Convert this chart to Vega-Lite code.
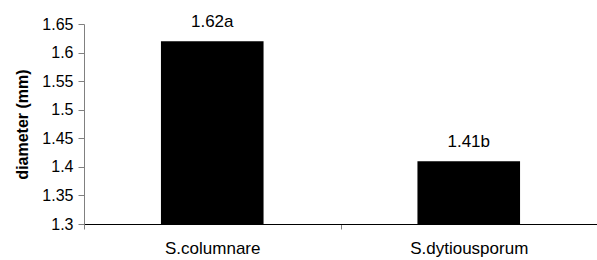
{
  "$schema": "https://vega.github.io/schema/vega-lite/v6.json",
  "width": 513,
  "height": 200,
  "autosize": {"type": "none"},
  "padding": {"left": 84, "top": 24, "right": 0, "bottom": 36},
  "background": "white",
  "config": {"view": {"stroke": null}, "font": "Liberation Sans"},
  "data": {"values": [
    {"species": "S.columnare", "diameter": 1.62, "label": "1.62a"},
    {"species": "S.dytiousporum", "diameter": 1.41, "label": "1.41b"}
  ]},
  "encoding": {
    "x": {"field": "species", "type": "nominal", "sort": null,
      "scale": {"paddingInner": 0, "paddingOuter": 0},
      "axis": {"title": null, "labelAngle": 0, "labelFontSize": 17, "labelColor": "black",
        "labelPadding": 11, "tickBand": "extent", "tickColor": "#808080", "tickSize": 5,
        "domainColor": "black", "grid": false}},
    "y": {"field": "diameter", "type": "quantitative",
       "scale": {"domain": [1.3, 1.65], "zero": false, "nice": false},
       "axis": {"title": "diameter (mm)", "titleFontSize": 16, "titleFontWeight": "bold", "titleColor": "black",
         "titlePadding": 11, "values": [1.3, 1.35, 1.4, 1.45, 1.5, 1.55, 1.6, 1.65],
         "labelExpr": "'' + datum.value",
         "labelFontSize": 16, "labelColor": "black", "labelPadding": 5, "tickSize": 6, "tickColor": "#808080",
         "domainColor": "#808080", "grid": false, "labelFlush": false}}
  },
  "layer": [
    {"mark": {"type": "bar", "color": "black", "width": {"band": 0.4}, "clip": true}},
    {"mark": {"type": "text", "fontSize": 17, "color": "black", "dy": -14, "baseline": "alphabetic"},
     "encoding": {"text": {"field": "label"}}}
  ]
}
